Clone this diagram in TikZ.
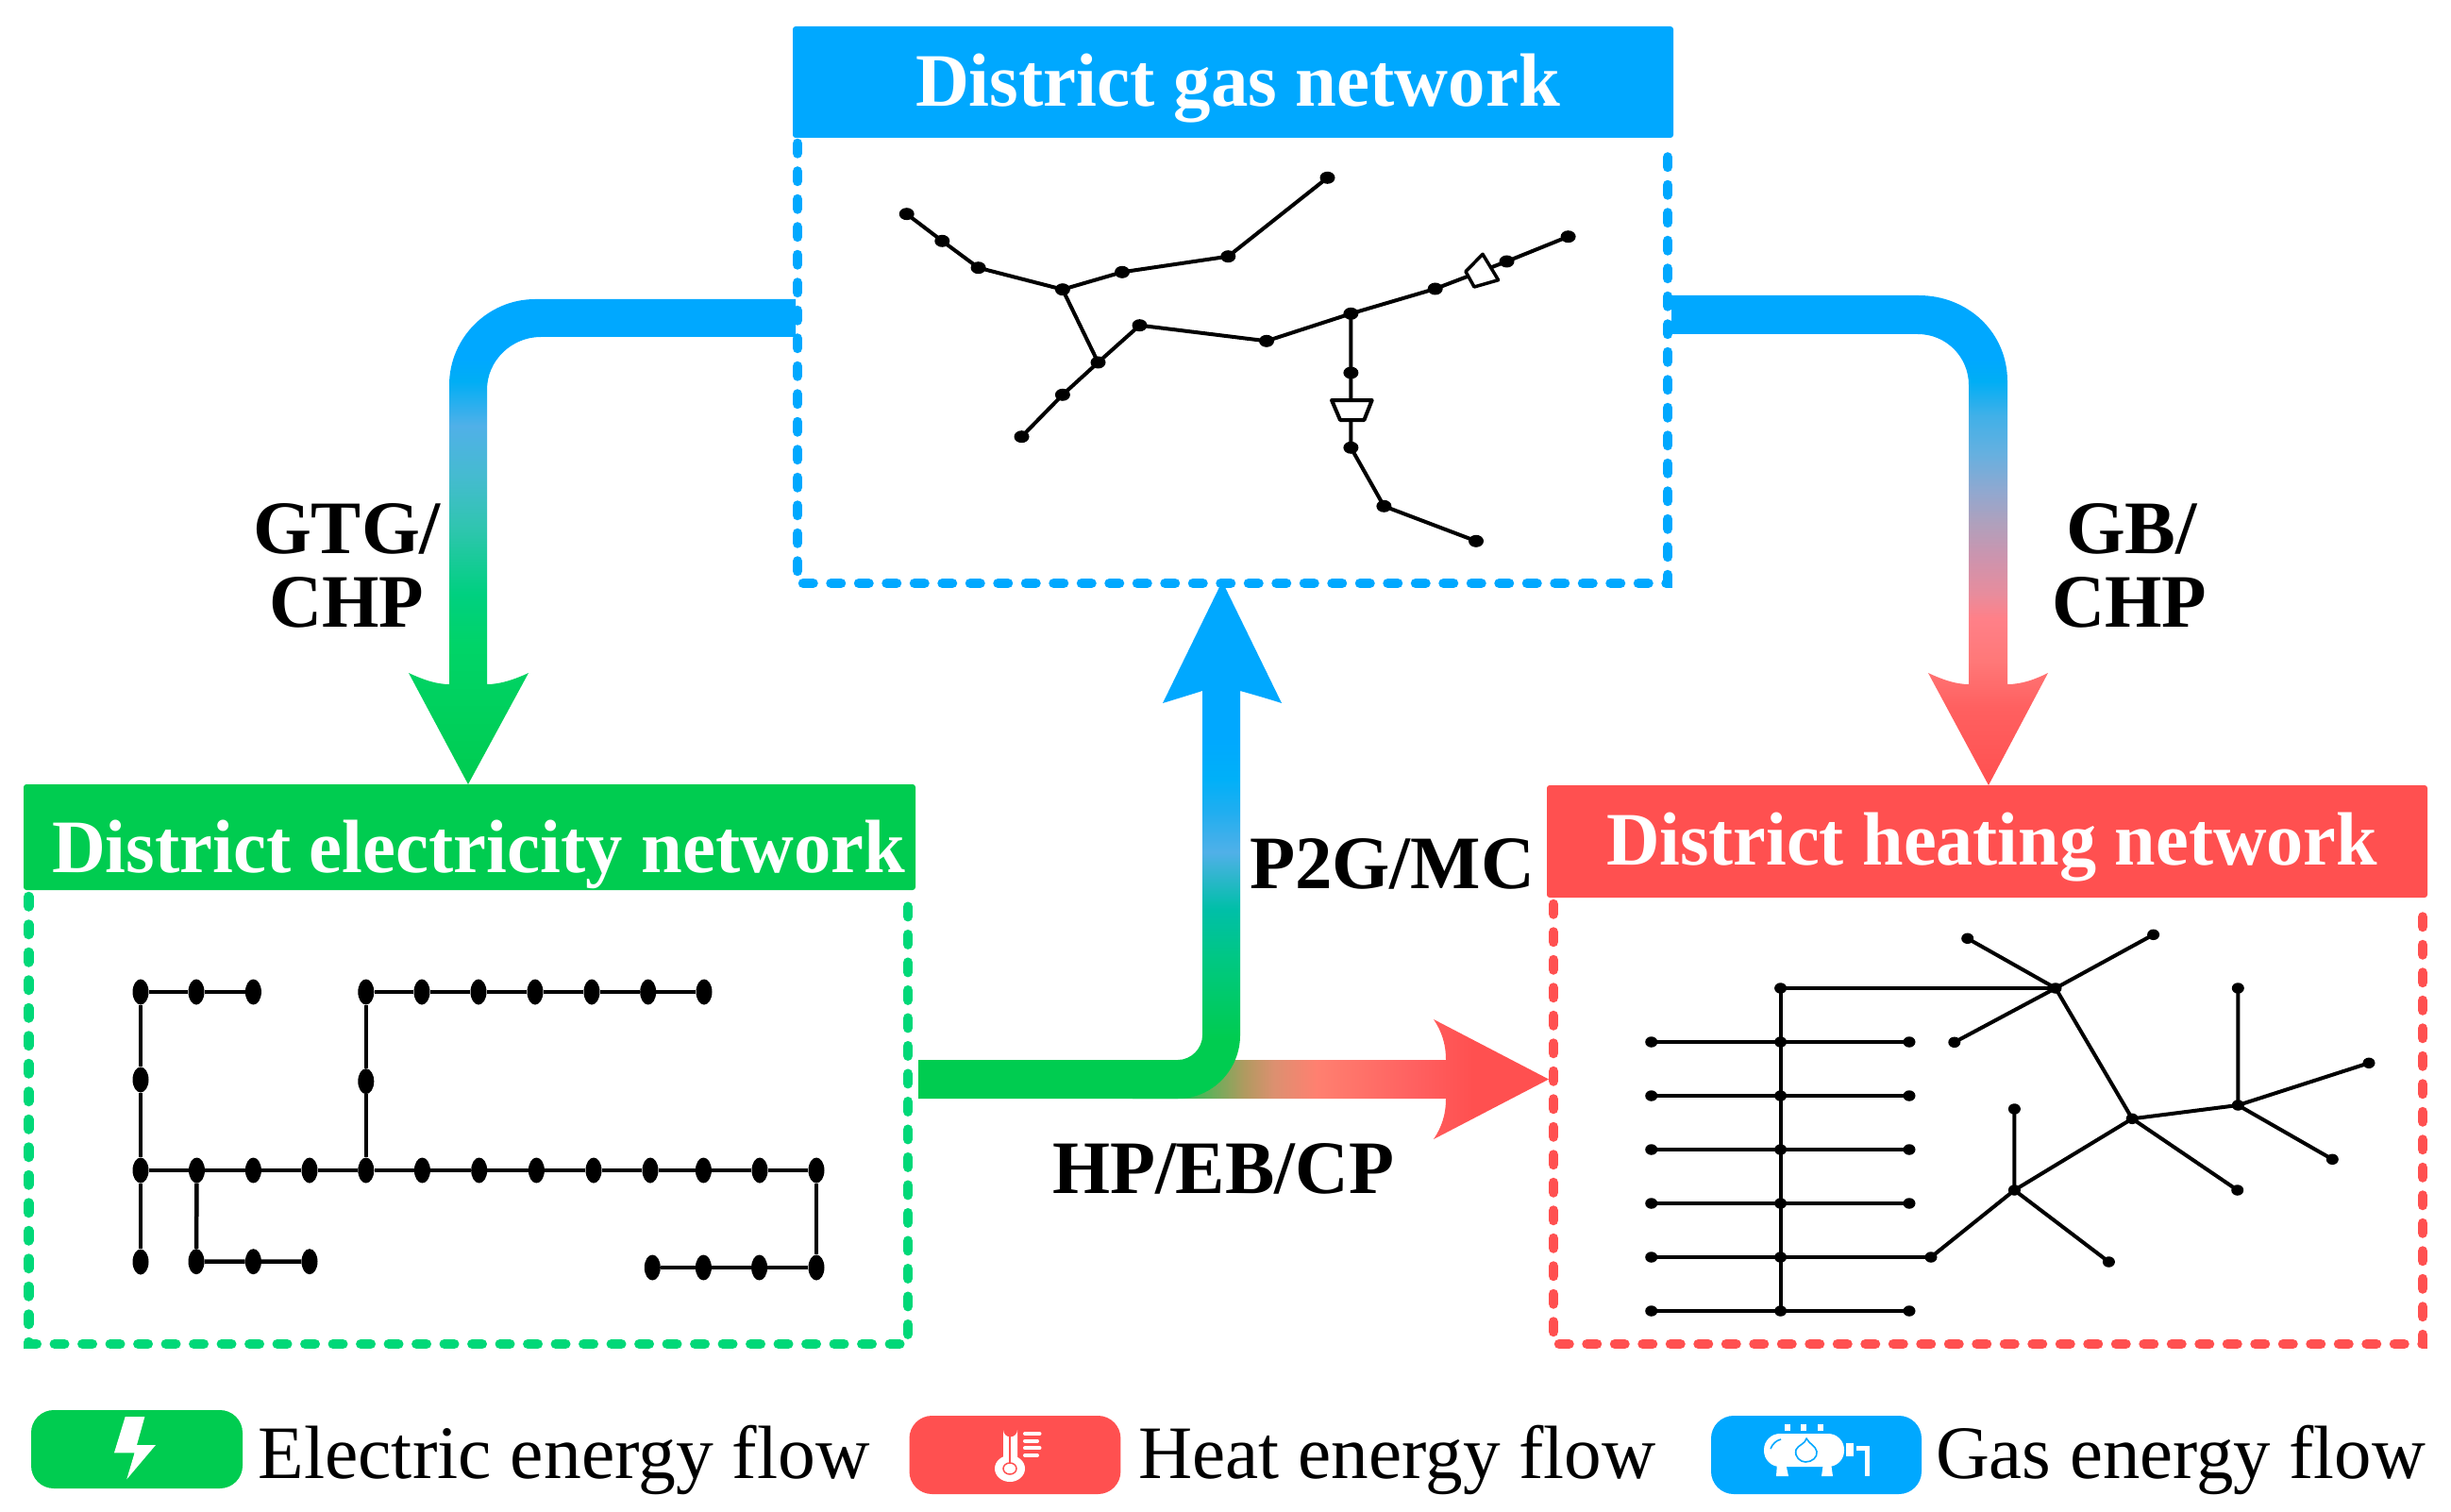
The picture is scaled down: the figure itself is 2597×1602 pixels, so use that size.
\documentclass[tikz,border=0pt]{standalone}
\usepackage{fontspec}
\usepackage{graphicx}
\setmainfont{Liberation Serif}
\usetikzlibrary{shapes.geometric}
\definecolor{fgreen}{HTML}{00CC50}
\definecolor{fblue}{HTML}{00A8FF}
\definecolor{fred}{HTML}{FF5050}
\definecolor{dgreen}{HTML}{00D878}
\definecolor{l1}{HTML}{00D468}\definecolor{l2}{HTML}{00D080}\definecolor{l3}{HTML}{30C5B0}
\definecolor{l4}{HTML}{45BBD0}\definecolor{l5}{HTML}{50B0E8}\definecolor{l6}{HTML}{00AEF5}
\pgfdeclareverticalshading{leftflow}{100bp}{color(0bp)=(fgreen);color(25bp)=(fgreen);color(39.4bp)=(l1);color(44.65bp)=(l2);color(51.55bp)=(l3);color(56.8bp)=(l4);color(61.95bp)=(l5);color(66.55bp)=(l6);color(68.85bp)=(fblue);color(100bp)=(fblue)}
\definecolor{r1}{HTML}{FF6060}\definecolor{r2}{HTML}{FF7878}\definecolor{r3}{HTML}{FF8088}\definecolor{r4}{HTML}{E88C9C}
\definecolor{r5}{HTML}{CC94AE}\definecolor{r6}{HTML}{B0A0BC}\definecolor{r7}{HTML}{90A8D0}\definecolor{r8}{HTML}{65B0E0}\definecolor{r9}{HTML}{40B0E8}
\pgfdeclareverticalshading{rightflow}{100bp}{color(0bp)=(fred);color(25bp)=(fred);color(32.9bp)=(r1);color(37.7bp)=(r2);color(42.05bp)=(r3);color(44.45bp)=(r4);color(48.3bp)=(r5);color(51.7bp)=(r6);color(55.05bp)=(r7);color(58.9bp)=(r8);color(62.75bp)=(r9);color(66.25bp)=(l6);color(68.5bp)=(fblue);color(100bp)=(fblue)}
\definecolor{u1}{HTML}{00C880}\definecolor{u2}{HTML}{00BFA8}\definecolor{u3}{HTML}{50B0E8}\definecolor{u4}{HTML}{20AEF0}\definecolor{u5}{HTML}{00B0F8}
\pgfdeclareverticalshading{upflow}{100bp}{color(0bp)=(fgreen);color(30.85bp)=(fgreen);color(38.15bp)=(u1);color(43.35bp)=(u2);color(48.8bp)=(u3);color(52.75bp)=(u4);color(55.95bp)=(u5);color(60bp)=(fblue);color(100bp)=(fblue)}
\definecolor{h1}{HTML}{B09A60}\definecolor{h2}{HTML}{DC9070}\definecolor{h3}{HTML}{FF8070}
\pgfdeclarehorizontalshading{hotflow}{100bp}{color(0bp)=(fgreen);color(29bp)=(fgreen);color(38.4bp)=(h1);color(42bp)=(h2);color(47.1bp)=(h3);color(59bp)=(r1);color(65.8bp)=(fred);color(100bp)=(fred)}
\newsavebox\fitbox
\newcommand\fitt[2]{\sbox\fitbox{#2}\pgfmathsetmacro\fitr{#1/\the\wd\fitbox}\scalebox{\fitr}[1]{\usebox\fitbox}}
\tikzset{
 txt/.style={inner sep=0pt,outer sep=0pt,anchor=base west},
 boldt/.style={txt,font=\fontsize{80}{90}\selectfont\bfseries},
 plaint/.style={txt,font=\fontsize{80}{90}\selectfont},
 edot/.style={ellipse,fill=black,inner sep=0pt,minimum width=17pt,minimum height=27pt},
 gdot/.style={ellipse,fill=black,inner sep=0pt,minimum width=16pt,minimum height=13pt},
 hdot/.style={ellipse,fill=black,inner sep=0pt,minimum width=13pt,minimum height=11.5pt},
 edge/.style={draw=black,line width=4.5pt},
 thin edge/.style={draw=black,line width=4pt},
 dashbox/.style={line width=10.5pt,line cap=round,dash pattern=on 10.5pt off 19pt},
 pill/.style={rounded corners=24pt},
 ico/.style={fill=white,draw=none}
}
\begin{document}
\begin{tikzpicture}[x=1pt,y=-1pt]
\useasboundingbox (0,0) rectangle (2597,1602);
\fill[white] (0,0) rectangle (2597,1602);
% flows
\shade[shading=leftflow] (843,317) -- (567,317) .. controls (517,317) and (476,358) .. (476,408) -- (476,725) .. controls (462,725) and (448,720) .. (433,713) -- (496,831) -- (560,713) .. controls (545,720) and (530,725) .. (516,725) -- (516,413) .. controls (516,382) and (542,357) .. (573,357) -- (843,357) -- cycle;
\shade[shading=rightflow] (1771,313) -- (2033,313) .. controls (2085,313) and (2127,352) .. (2127,404) -- (2127,725) .. controls (2142,725) and (2156,720) .. (2170,713) -- (2107,832) -- (2043,713) .. controls (2058,720) and (2072,725) .. (2086,725) -- (2086,408) .. controls (2086,378) and (2062,354) .. (2032,354) -- (1771,354) -- cycle;
\shade[shading=hotflow] (1200,1123) -- (1532,1123) .. controls (1532,1105) and (1527,1092) .. (1519,1080) -- (1641,1143.5) -- (1519,1207) .. controls (1527,1195) and (1532,1182) .. (1532,1164) -- (1200,1164) -- cycle;
\shade[shading=upflow] (973,1123) -- (1248,1123) .. controls (1262,1123) and (1274,1111) .. (1274,1097) -- (1274,732) .. controls (1274,732) and (1255,738) .. (1232,745) -- (1295,616) -- (1358,745) .. controls (1336,738) and (1314,732) .. (1314,732) -- (1314,1097) .. controls (1314,1133) and (1285,1164) .. (1248,1164) -- (973,1164) -- cycle;
% title bars and dashed boxes
\fill[fblue,rounded corners=3pt] (840,28) rectangle (1773,146);
\draw[fblue,dashbox] (845,152) -- (845,618) -- (1767,618) -- (1767,152);
\fill[fgreen,rounded corners=3pt] (25,831) rectangle (970,943);
\draw[dgreen,dashbox] (30.3,950) -- (30.3,1424) -- (962,1424) -- (962,950);
\fill[fred,rounded corners=3pt] (1639,832) rectangle (2572,951);
\draw[fred,dashbox] (1646,958) -- (1646,1424) -- (2567,1424) -- (2567,958);
\node[boldt,text=white] (tg) at (970,113) {\fitt{683}{District gas network}};
\node[boldt,text=white] (te) at (55,924) {\fitt{904}{District electricity network}};
\node[boldt,text=white] (th) at (1702,916) {\fitt{817}{District heating network}};
% flow labels
\node[boldt] (l1a) at (268,586) {\fitt{199}{GTG/}};
\node[boldt] (l1b) at (285,664) {\fitt{164}{CHP}};
\node[boldt] (l2a) at (2189,586) {\fitt{139}{GB/}};
\node[boldt] (l2b) at (2174,664) {\fitt{164}{CHP}};
\node[boldt] (l3) at (1324,941.7) {\fitt{302}{P2G/MC}};
\node[boldt] (l4) at (1115,1264) {\fitt{362}{HP/EB/CP}};
% gas network
\foreach \n/\x/\y in {a1/960.7/226.7,a2/998.3/255.3,a3/1036.6/283.7,a4/1125.9/306.7,a5/1189/288.3,a6/1301.3/271.7,a7/1406.5/188.3,
 b1/1163.5/384,b2/1207.5/344.7,b3/1342/361.3,b4/1431.4/332.3,b5/1520.7/306,b6/1596.5/277,b7/1661.6/250.7,
 c1/1125.9/418.3,c2/1082.5/462.7,d1/1431.4/395,d2/1431.4/474.3,d3/1466.4/536.3,d4/1564/573.3}
 \node[gdot] (\n) at (\x,\y) {};
\draw[thin edge] (a1.center)--(a2.center)--(a3.center)--(a4.center)--(a5.center)--(a6.center)--(a7.center);
\draw[thin edge] (a4.center)--(b1.center)--(b2.center)--(b3.center)--(b4.center)--(b5.center)--(b6.center)--(b7.center);
\draw[thin edge] (b1.center)--(c1.center)--(c2.center);
\draw[thin edge] (b4.center)--(d1.center)--(d2.center)--(d3.center)--(d4.center);
\draw[fill=white,line width=4pt,line join=round] (1411,424) -- (1453.7,424) -- (1445.4,445) -- (1420,445) -- cycle;
\draw[fill=white,line width=3.5pt,line join=round] (1571,269.3) -- (1553,287.7) -- (1562,304) -- (1587.6,296.7) -- cycle;
% electricity network
\foreach \n/\x in {p1/149,p2/208,p3/268.4,q1/387.8,q2/447,q3/507,q4/567,q5/627,q6/686.7,q7/746}
 \node[edot] (\n) at (\x,1051) {};
\node[edot] (v1) at (149,1144) {};
\node[edot] (v2) at (387.8,1145.7) {};
\foreach \n/\x in {m1/149,m2/208.5,m3/268.4,m4/328,m5/387.8,m6/447.4,m7/507.7,m8/568.4,m9/629,m10/689,m11/745.4,m12/805,m13/865}
 \node[edot] (\n) at (\x,1240) {};
\node[edot] (bb) at (149,1337) {};
\foreach \n/\x in {s1/208,s2/268.4,s3/328}
 \node[edot] (\n) at (\x,1336.7) {};
\foreach \n/\x in {t1/691.3,t2/745.4,t3/804.6,t4/865}
 \node[edot] (\n) at (\x,1343) {};
\draw[edge] (p1)--(p2)--(p3);
\draw[edge] (q1)--(q2)--(q3)--(q4)--(q5)--(q6)--(q7);
\draw[edge] (p1)--(v1)--(m1)--(bb);
\draw[edge] (q1)--(v2)--(m5);
\draw[edge] (m1)--(m2)--(m3)--(m4)--(m5)--(m6)--(m7)--(m8)--(m9)--(m10)--(m11)--(m12)--(m13);
\draw[edge] (m2)--(s1)--(s2)--(s3);
\draw[edge] (m13)--(t4)--(t3)--(t2)--(t1);
% heating network
\node[hdot] (h0) at (1886.6,1047) {};
\node[hdot] (hub) at (2178,1047) {};
\node[hdot] (n1) at (2084.7,994.3) {};
\node[hdot] (n2) at (2281.6,990.3) {};
\node[hdot] (n3) at (2070.8,1104.3) {};
\foreach \i/\y in {1/1104,2/1161,3/1218,4/1275,5/1332,6/1389}{
 \node[hdot] (hl\i) at (1749.7,\y) {};
 \node[hdot] (hm\i) at (1886.6,\y) {};
}
\foreach \i/\y in {1/1104,2/1161,3/1218,4/1275,6/1389}
 \node[hdot] (hr\i) at (2023,\y) {};
\node[hdot] (hr5) at (2046,1332) {};
\node[hdot] (k1) at (2259.2,1185.3) {};
\node[hdot] (k2) at (2371.3,1171) {};
\node[hdot] (k3) at (2371.3,1047) {};
\node[hdot] (k4) at (2510,1126.3) {};
\node[hdot] (k5) at (2471.3,1228.3) {};
\node[hdot] (k6) at (2370.7,1261) {};
\node[hdot] (k7) at (2134.4,1261) {};
\node[hdot] (k8) at (2134.4,1175) {};
\node[hdot] (k9) at (2234.4,1337) {};
\foreach \i in {1,...,6}
 \draw[thin edge] (hl\i.center)--(hm\i.center)--(hr\i.center);
\draw[thin edge] (h0.center)--(hm1.center)--(hm2.center)--(hm3.center)--(hm4.center)--(hm5.center)--(hm6.center);
\draw[thin edge] (h0.center)--(hub.center);
\draw[thin edge] (n1.center)--(hub.center);
\draw[thin edge] (n2.center)--(hub.center)--(n3.center);
\draw[thin edge] (hub.center)--(k1.center)--(k2.center)--(k3.center);
\draw[thin edge] (k2.center)--(k4.center);
\draw[thin edge] (k2.center)--(k5.center);
\draw[thin edge] (k1.center)--(k6.center);
\draw[thin edge] (k1.center)--(k7.center)--(k8.center);
\draw[thin edge] (k7.center)--(k9.center);
\draw[thin edge] (k7.center)--(hr5.center);
% legend
\fill[fgreen,pill] (33,1494) rectangle (257,1577);
\fill[fred,pill] (963.5,1500) rectangle (1187.4,1583);
\fill[fblue,pill] (1813,1500) rectangle (2036,1583);
\fill[ico] (132.7,1501) -- (153.4,1501) -- (145,1531) -- (165,1531) -- (134.3,1567.3) -- (142.6,1539.3) -- (121,1539.3) -- cycle;
% thermometer
\fill[white] (1063,1545) -- (1063,1515) arc[start angle=180,end angle=0,radius=7.5] -- (1078,1545) -- cycle;
\fill[white] (1070,1556) ellipse[x radius=16,y radius=14];
\draw[fred,line width=2pt] (1070,1512) -- (1070,1550);
\draw[fred,line width=1.5pt] (1070,1556) ellipse[x radius=7,y radius=6];
\foreach \y/\xe in {1519/1101.5,1526.7/1099,1534.3/1101.5,1542/1099}
 \draw[white,line width=4pt,line cap=round] (1086,\y) -- (\xe,\y);
% gas tank
\foreach \x in {1894,1911,1929}
 \fill[white] (\x-3,1509) rectangle (\x+3,1516);
\fill[white,rounded corners=17pt] (1869,1519) rectangle (1954,1554);
\fill[white] (1883,1550) -- (1892,1550) -- (1895,1564) -- (1882,1564) -- cycle;
\fill[white] (1932,1550) -- (1940,1550) -- (1942,1564) -- (1930,1564) -- cycle;
\fill[white] (1956,1529) rectangle (1964,1543);
\draw[white,line width=5pt] (1967,1534) -- (1978,1534) -- (1978,1564);
\draw[fblue,line width=1.6pt] (1876,1535) .. controls (1878,1530) and (1882,1526) .. (1887,1525);
\draw[fblue,line width=1.6pt,line join=round] (1914,1524) .. controls (1913,1530) and (1905,1531) .. (1903,1536) .. controls (1901,1544) and (1908,1549) .. (1913,1549) .. controls (1920,1549) and (1926,1544) .. (1925,1538) .. controls (1924,1532) and (1917,1530) .. (1914,1524) -- cycle;
% legend text
\node[plaint] (lg1) at (273.6,1566) {\fitt{648}{Electric energy flow}};
\node[plaint] (lg2) at (1206.5,1566) {\fitt{548}{Heat energy flow}};
\node[plaint] (lg3) at (2051,1566) {\fitt{519}{Gas energy flow}};
\end{tikzpicture}
\end{document}
